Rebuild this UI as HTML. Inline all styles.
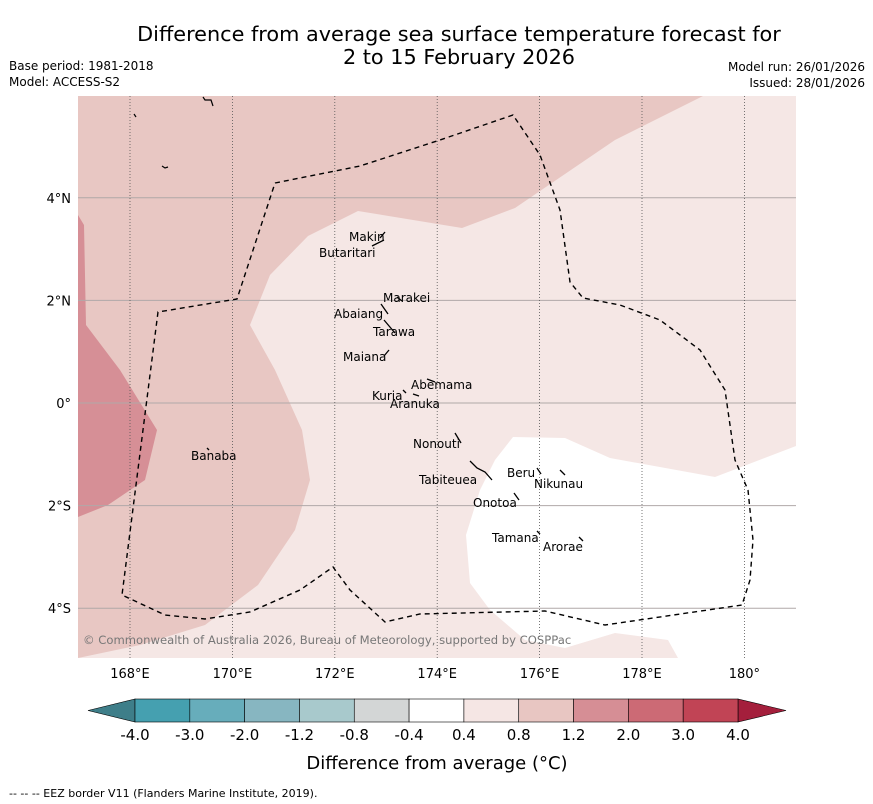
<!DOCTYPE html>
<html><head><meta charset="utf-8"><style>
body{margin:0;background:#fff;width:873px;height:804px;overflow:hidden;font-family:"Liberation Sans","DejaVu Sans",sans-serif}
svg{position:absolute;left:0;top:0}
</style></head><body>
<svg width="873" height="804" viewBox="0 0 873 804">
<text x="459" y="41" font-size="20.8" text-anchor="middle" font-family="DejaVu Sans,sans-serif">Difference from average sea surface temperature forecast for</text>
<text x="459" y="64" font-size="20.8" text-anchor="middle" font-family="DejaVu Sans,sans-serif">2 to 15 February 2026</text>
<text x="9" y="70" font-size="12" font-family="DejaVu Sans,sans-serif">Base period: 1981-2018</text>
<text x="9" y="86" font-size="12" font-family="DejaVu Sans,sans-serif">Model: ACCESS-S2</text>
<text x="865" y="71" font-size="12" text-anchor="end" font-family="DejaVu Sans,sans-serif">Model run: 26/01/2026</text>
<text x="865" y="87" font-size="12" text-anchor="end" font-family="DejaVu Sans,sans-serif">Issued: 28/01/2026</text>
<g id="map"></g>
<g id="cbar"></g>
<text x="437" y="769" font-size="18" text-anchor="middle" font-family="DejaVu Sans,sans-serif">Difference from average (°C)</text>
<text x="9" y="797" font-size="11" font-family="DejaVu Sans,sans-serif">-- -- -- EEZ border V11 (Flanders Marine Institute, 2019).</text>
</svg>
<script>
const NS="http://www.w3.org/2000/svg";
const lonTicks=[168,170,172,174,176,178,180];
const lonLabels=["168°E","170°E","172°E","174°E","176°E","178°E","180°"];
const latTicks=[4,2,0,-2,-4];
const latLabels=["4°N","2°N","0°","2°S","4°S"];
const cbLevels=["-4.0","-3.0","-2.0","-1.2","-0.8","-0.4","0.4","0.8","1.2","2.0","3.0","4.0"];
const cbColors=["#45a0b0","#67adbb","#87b6c1","#a8c9cc","#d3d6d6","#ffffff","#f5e6e4","#e8c6c2","#d68e95","#cc6a75","#c14455"];
const X0=78,X1=796,Y0=96,Y1=658;
function xs(lon){return 130+(lon-168)*51.2;}
function ys(lat){return 403-lat*51.3;}
function px(x,y){return x+","+y;}
const map=document.getElementById('map');
function add(parent,tag,attrs){const e=document.createElementNS(NS,tag);for(const k in attrs)e.setAttribute(k,attrs[k]);parent.appendChild(e);return e;}
let e=add(map,'rect',{x:X0,y:Y0,width:X1-X0,height:Y1-Y0,fill:"#f5e7e5"});


const medPts=[[78,96],[703,96],[615,140],[515,208],[462,228],[358,211],[308,236],[270,275],[250,325],[275,370],[302,430],[310,480],[295,530],[258,585],[205,625],[140,645],[78,658]];
e=add(map,'polygon',{points:medPts.map(p=>px(p[0],p[1])).join(' '),fill:"#e8c7c3"});


const darkPts=[[78,215],[84,225],[86,325],[120,370],[157,430],[145,480],[108,505],[78,517]];
e=add(map,'polygon',{points:darkPts.map(p=>px(p[0],p[1])).join(' '),fill:"#d68f96"});


const whitePts=[[513,437],[565,438],[610,458],[715,477],[796,446],[796,658],[678,658],[668,640],[615,633],[565,648],[525,640],[490,610],[470,583],[466,535],[480,490],[495,460]];
e=add(map,'polygon',{points:whitePts.map(p=>px(p[0],p[1])).join(' '),fill:"#ffffff"});


latTicks.forEach((v,i)=>{
 let g=add(map,'line',{x1:X0,x2:X1,y1:ys(v),y2:ys(v),stroke:"#b0a8a8","stroke-width":1});
 
 
 let t=add(map,'text',{x:71,y:ys(v)+5,"font-size":13,"text-anchor":"end","font-family":"DejaVu Sans,sans-serif"});t.textContent=latLabels[i];
 
 
});
lonTicks.forEach((v,i)=>{
 let g=add(map,'line',{x1:xs(v),x2:xs(v),y1:Y0,y2:Y1,stroke:"#555","stroke-width":0.8,"stroke-dasharray":"1,2"});
 
 
 let t=add(map,'text',{x:xs(v),y:678,"font-size":13,"text-anchor":"middle","font-family":"DejaVu Sans,sans-serif"});t.textContent=lonLabels[i];
 
 
});
const eez=[[275,183],[360,166],[440,140],[513,115],[540,155],[560,210],[570,282],[583,298],[620,305],[660,320],[700,350],[725,390],[735,460],[748,490],[753,540],[750,580],[742,605],[605,625],[545,611],[420,614],[385,622],[350,590],[333,567],[300,590],[250,612],[205,619],[165,615],[122,595],[158,312],[237,299],[275,183]];
e=add(map,'polyline',{points:eez.map(p=>px(p[0],p[1])).join(' '),fill:"none",stroke:"#000","stroke-width":1.4,"stroke-dasharray":"5,4"});


const islands=[["Makin",349,241,[[380,238],[385,232]]],["Butaritari",319,257,[[372,246],[384,240]]],["Marakei",383,302,[[397,297],[402,301]]],["Abaiang",334,318,[[381,304],[388,314]]],["Tarawa",373,336,[[384,320],[395,333]]],["Maiana",343,361,[[384,356],[389,350]]],["Abemama",411,389,[[427,379],[435,382]]],["Kuria",372,400,[[403,390],[406,393]]],["Aranuka",390,408,[[413,394],[419,396]]],["Nonouti",413,448,[[455,433],[461,443]]],["Tabiteuea",419,484,[[470,461],[477,468],[485,472],[492,480]]],["Beru",507,477,[[537,468],[541,474]]],["Nikunau",534,488,[[560,470],[565,475]]],["Onotoa",473,507,[[514,493],[519,500]]],["Tamana",492,542,[[537,531],[540,534]]],["Arorae",543,551,[[579,537],[583,541]]],["Banaba",191,460,[[207,448],[209,450]]]];
islands.forEach(d=>{
 let l=add(map,'polyline',{points:d[3].map(p=>px(p[0],p[1])).join(' '),fill:"none",stroke:"#000","stroke-width":1.3});
 
 
 let t=add(map,'text',{x:d[1],y:d[2],"font-size":12,"font-family":"DejaVu Sans,sans-serif"});t.textContent=d[0];
 
 
});
[[[134,114],[136,117]],[[203,97],[205,100],[211,100],[213,106]],[[162,166],[165,168],[168,167]]].forEach(p=>{
 let l=add(map,'polyline',{points:p.map(q=>px(q[0],q[1])).join(' '),fill:"none",stroke:"#000","stroke-width":1.2});
 
 
});
e=add(map,'text',{x:83,y:644,"font-size":11.6,fill:"#777","font-family":"DejaVu Sans,sans-serif"});e.textContent="© Commonwealth of Australia 2026, Bureau of Meteorology, supported by COSPPac";


const cb=document.getElementById('cbar');
const cx0=135,cx1=738,cy0=699,cy1=722,seg=(cx1-cx0)/cbColors.length;
e=add(cb,'polygon',{points:`88,710.5 ${cx0},${cy0} ${cx0},${cy1}`,fill:"#3e7e89",stroke:"#000","stroke-width":0.6});


e=add(cb,'polygon',{points:`786,710.5 ${cx1},${cy0} ${cx1},${cy1}`,fill:"#a41f3c",stroke:"#000","stroke-width":0.6});


cbColors.forEach((c,i)=>{
 let r=add(cb,'rect',{x:cx0+i*seg,y:cy0,width:seg,height:cy1-cy0,fill:c,stroke:"#000","stroke-width":0.6});
 
 
});
cbLevels.forEach((v,i)=>{
 let t=add(cb,'text',{x:cx0+i*seg,y:740,"font-size":15,"text-anchor":"middle","font-family":"DejaVu Sans,sans-serif"});t.textContent=v;
 
 
});
</script>
</body></html>
